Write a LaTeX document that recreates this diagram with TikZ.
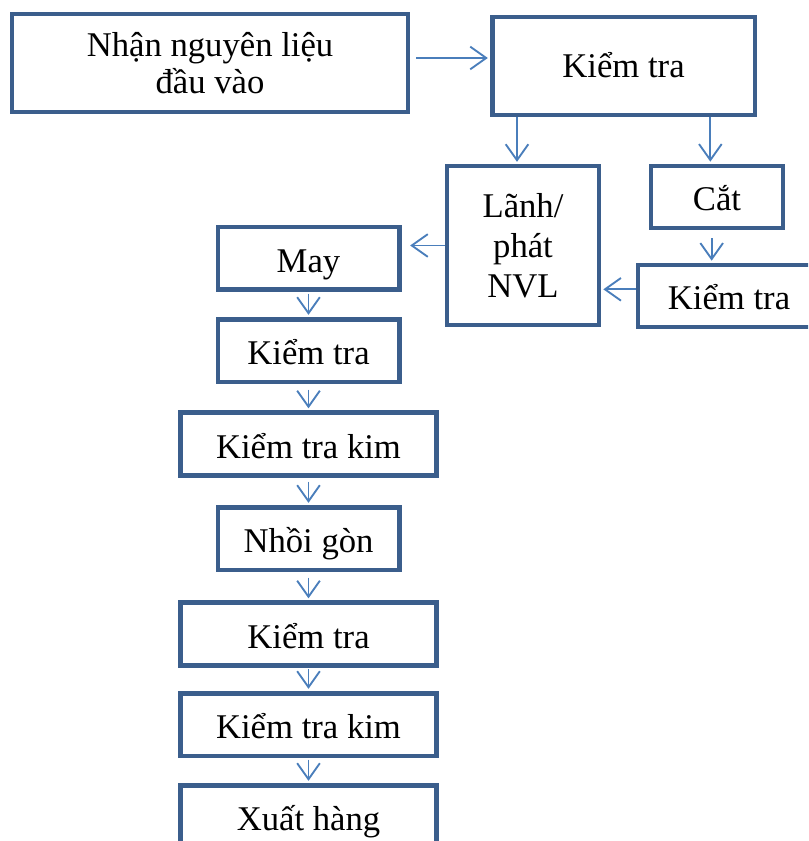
\documentclass[tikz,border=0pt]{standalone}
\usepackage{fontspec}
\setmainfont{Liberation Serif}
\usetikzlibrary{arrows.meta}
\definecolor{boxblue}{HTML}{3B5E8C}
\definecolor{arrowblue}{HTML}{4A7EBB}

\begin{document}
\begin{tikzpicture}[x=0.75pt, y=-0.75pt]
    \tikzstyle{flow box} = [rectangle, draw=boxblue, line width=3.5pt, fill=white, inner sep=0pt, align=center, font=\fontsize{26}{30}\selectfont]
    \tikzstyle{one line} = [flow box, text height=21pt, text depth=0pt]
    \tikzstyle{flow arrow} = [draw=arrowblue, line width=1.4pt, -{Straight Barb[length=12pt,width=17pt]}, shorten >=1.5pt]
\useasboundingbox (0,0) rectangle (808,841);
\clip (0,0) rectangle (808,841);
\node[flow box, minimum width=297pt, minimum height=73.5pt] (nhan) at (210,63) {Nhận nguyên liệu\\[-2pt]đầu vào};
\node[one line, text height=18pt, minimum width=197pt, minimum height=73.5pt] (kt1) at (623.5,66) {Kiểm tra};
\node[flow box, minimum width=114pt, minimum height=119pt] (lanh) at (523,245.5) {Lãnh/\\phát\\NVL};
\node[one line, minimum width=99pt, minimum height=46.5pt] (cat) at (717,197) {Cắt};
\node[one line, minimum width=136.5pt, minimum height=46.5pt] (kt2) at (729,296) {Kiểm tra};
\node[one line, minimum width=136pt, minimum height=47pt] (may) at (308.5,258.5) {May};
\node[one line, minimum width=136pt, minimum height=47pt] (kt3) at (308.5,350.5) {Kiểm tra};
\node[one line, minimum width=192pt, minimum height=47pt] (ktk1) at (308.5,444) {Kiểm tra kim};
\node[one line, minimum width=136pt, minimum height=47pt] (nhoi) at (308.5,538.5) {Nhồi gòn};
\node[one line, minimum width=192pt, minimum height=47pt] (kt4) at (308.5,634) {Kiểm tra};
\node[one line, minimum width=192pt, minimum height=47pt] (ktk2) at (308.5,724.5) {Kiểm tra kim};
\node[one line, minimum width=192pt, minimum height=47pt] (xuat) at (308.5,816.5) {Xuất hàng};
% upper part
\draw[flow arrow] ([xshift=4.5pt,yshift=3.75pt]nhan.east) -- ([yshift=3.75pt]nhan.east -| kt1.west);
\draw[flow arrow] ([xshift=-4.5pt]lanh.north |- kt1.south) -- ([xshift=-4.5pt]lanh.north);
\draw[flow arrow] ([xshift=-5pt]cat.north |- kt1.south) -- ([xshift=-5pt]cat.north);
\draw[flow arrow] ([xshift=-4pt,yshift=-6pt]cat.south) -- ([xshift=-4pt]cat.south |- kt2.north);
\draw[flow arrow] ([yshift=5pt]kt2.west) -- ([yshift=5pt]kt2.west -| lanh.east);
\draw[flow arrow] (lanh.west) -- ([xshift=5pt]lanh.west -| may.east);
% column
\draw[flow arrow] ([yshift=-1pt]may.south) -- (kt3.north);
\draw[flow arrow] ([yshift=-4pt]kt3.south) -- (ktk1.north);
\draw[flow arrow] ([yshift=-3pt]ktk1.south) -- (nhoi.north);
\draw[flow arrow] ([yshift=-4pt]nhoi.south) -- (kt4.north);
\draw[flow arrow] ([yshift=-1pt]kt4.south) -- (ktk2.north);
\draw[flow arrow] ([yshift=-1pt]ktk2.south) -- (xuat.north);
\end{tikzpicture}
\end{document}
